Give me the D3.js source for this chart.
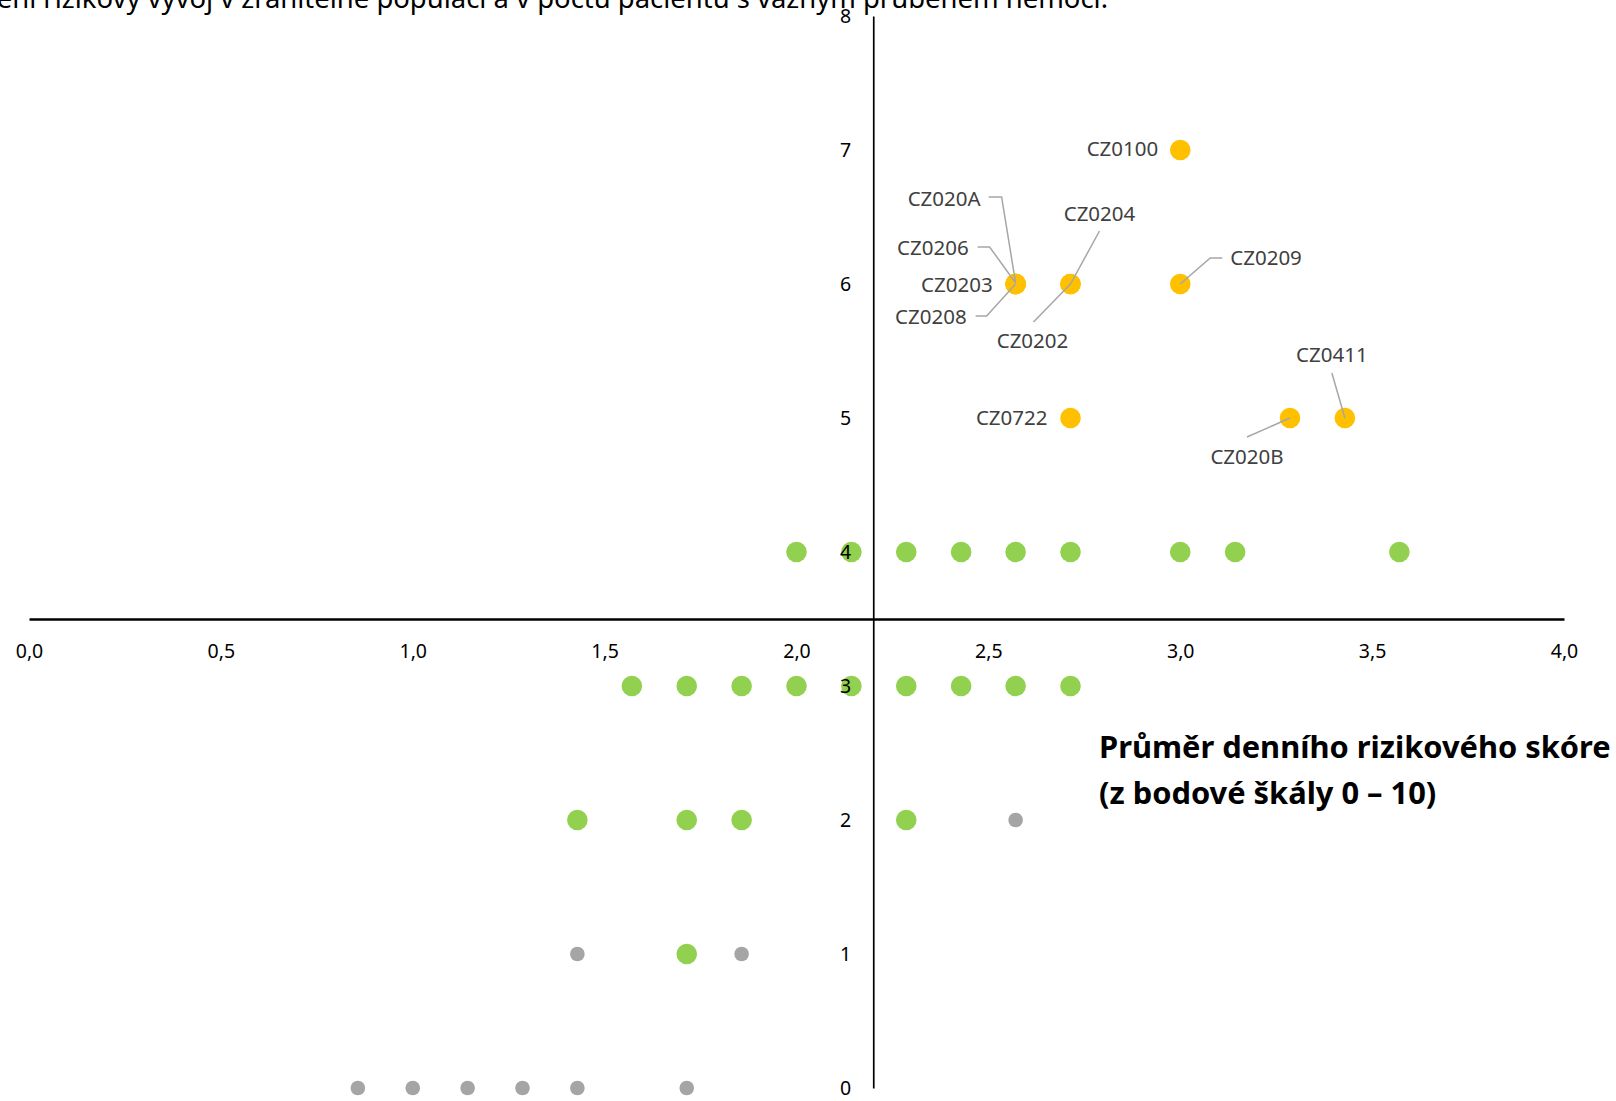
<!DOCTYPE html>
<html>
<head>
<meta charset="utf-8">
<script src="https://cdn.jsdelivr.net/npm/d3@7"></script>
<style>
body { margin: 0; background: #fff; overflow: hidden; }
svg { display: block; }
</style>
</head>
<body>
<script>
// points with region codes (yellow)
var yellowNames = ["CZ0100", "CZ020A", "CZ0206", "CZ0203", "CZ0208", "CZ0204", "CZ0202", "CZ0209", "CZ0722", "CZ020B", "CZ0411"];
var yellowX = [3.0, 2.571, 2.571, 2.571, 2.571, 2.714, 2.714, 3.0, 2.714, 3.286, 3.429];
var yellowY = [7, 6, 6, 6, 6, 6, 6, 6, 5, 5, 5];

// green points
var greenX = [2.0, 2.143, 2.286, 2.429, 2.571, 2.714, 3.0, 3.143, 3.571,
              1.571, 1.714, 1.857, 2.0, 2.143, 2.286, 2.429, 2.571, 2.714,
              1.429, 1.714, 1.857, 2.286,
              1.714];
var greenY = [4, 4, 4, 4, 4, 4, 4, 4, 4,
              3, 3, 3, 3, 3, 3, 3, 3, 3,
              2, 2, 2, 2,
              1];

// grey points
var greyX = [2.571, 1.429, 1.857, 0.857, 1.0, 1.143, 1.286, 1.429, 1.714];
var greyY = [2, 1, 1, 0, 0, 0, 0, 0, 0];

var xTicks = [0, 0.5, 1, 1.5, 2, 2.5, 3, 3.5, 4];
var yTicks = [0, 1, 2, 3, 4, 5, 6, 7, 8];

var titleText = "ení rizikový vývoj v zranitelné populaci a v počtu pacientů s vážným průběhem nemoci.";
var axisTitle = ["Průměr denního rizikového skóre", "(z bodové škály 0 – 10)"];

// where each label sits relative to its point (pixels), plus optional leader line
var labelLayout = {
  "CZ0100": { anchor: "end", dx: -22, dy: -1 },
  "CZ020A": { anchor: "end", dx: -35, dy: -85, leader: [[-27, -87], [-14, -87], [0, -1]] },
  "CZ0206": { anchor: "end", dx: -47, dy: -36, leader: [[-38, -37], [-26, -37], [0, -1]] },
  "CZ0203": { anchor: "end", dx: -23, dy: 1 },
  "CZ0208": { anchor: "end", dx: -49, dy: 33, leader: [[-40, 32], [-29, 32], [0, 0]] },
  "CZ0204": { anchor: "middle", dx: 29, dy: -70, leader: [[29, -53], [0, 0]] },
  "CZ0202": { anchor: "middle", dx: -38, dy: 57, leader: [[-37, 38], [0, 0]] },
  "CZ0209": { anchor: "start", dx: 50, dy: -26, leader: [[42, -26], [30, -26], [0, 0]] },
  "CZ0722": { anchor: "end", dx: -23, dy: 0 },
  "CZ020B": { anchor: "middle", dx: -43, dy: 39, leader: [[-43, 19], [0, 0]] },
  "CZ0411": { anchor: "middle", dx: -13, dy: -63, leader: [[-13, -45], [0, 0]] }
};

var width = 1616, height = 1101;

var svg = d3.select("body").append("svg")
  .attr("width", width)
  .attr("height", height)
  .style("font-family", "'Noto Sans', sans-serif");

var x = d3.scaleLinear().domain([0, 4]).range([29, 1564]);
var y = d3.scaleLinear().domain([0, 8]).range([1088, 16]);

var cz = d3.formatLocale({ decimal: ",", thousands: " ", grouping: [3], currency: ["", " Kč"] });

var yellowData = yellowNames.map(function(n, i) { return { name: n, x: yellowX[i], y: yellowY[i] }; });
var greenData = greenX.map(function(v, i) { return { x: v, y: greenY[i] }; });
var greyData = greyX.map(function(v, i) { return { x: v, y: greyY[i] }; });

// points
svg.append("g").selectAll("circle")
  .data(greyData)
  .enter()
  .append("circle")
  .attr("cx", function(d) { return x(d.x); })
  .attr("cy", function(d) { return y(d.y); })
  .attr("r", 7.3)
  .style("fill", "#a5a5a5");

svg.append("g").selectAll("circle")
  .data(greenData)
  .enter()
  .append("circle")
  .attr("cx", function(d) { return x(d.x); })
  .attr("cy", function(d) { return y(d.y); })
  .attr("r", 10.3)
  .style("fill", "#92d050");

svg.append("g").selectAll("circle")
  .data(yellowData)
  .enter()
  .append("circle")
  .attr("cx", function(d) { return x(d.x); })
  .attr("cy", function(d) { return y(d.y); })
  .attr("r", 10.3)
  .style("fill", "#ffc000");

// axes crossing at (2.2, 3.5)
var xAxis = svg.append("g")
  .attr("transform", "translate(0," + y(3.5) + ")")
  .call(d3.axisBottom(x).tickValues(xTicks).tickSize(0).tickPadding(0).tickFormat(cz.format(".1f")));
xAxis.select(".domain").attr("stroke", "#000").attr("stroke-width", 2.4);
xAxis.selectAll("text")
  .attr("y", 32)
  .attr("dy", "0.35em")
  .attr("font-size", 19.5)
  .attr("font-family", "'Noto Sans', sans-serif")
  .attr("fill", "#000");

var yAxis = svg.append("g")
  .attr("transform", "translate(" + x(2.2) + ",0)")
  .call(d3.axisLeft(y).tickValues(yTicks).tickSize(0).tickPadding(0).tickFormat(d3.format("d")));
yAxis.select(".domain").attr("stroke", "#000").attr("stroke-width", 1.7);
yAxis.selectAll("text")
  .attr("x", -22)
  .attr("dy", "0.35em")
  .attr("font-size", 19.5)
  .attr("font-family", "'Noto Sans', sans-serif")
  .attr("fill", "#000");

// leader lines and labels
var line = d3.line();
var lab = svg.append("g");
yellowData.forEach(function(d) {
  var L = labelLayout[d.name];
  var px = x(d.x), py = y(d.y);
  if (L.leader) {
    lab.append("path")
      .attr("d", line(L.leader.map(function(p) { return [px + p[0], py + p[1]]; })))
      .attr("fill", "none")
      .attr("stroke", "#a6a6a6")
      .attr("stroke-width", 1.5);
  }
  lab.append("text")
    .attr("x", px + L.dx)
    .attr("y", py + L.dy)
    .attr("dy", "0.35em")
    .attr("text-anchor", L.anchor)
    .attr("font-size", 20.5)
    .attr("fill", "#404040")
    .text(d.name);
});

// axis title (bold, two lines), fitted to the reference width
var at = svg.append("g");
var atLines = at.selectAll("text")
  .data(axisTitle)
  .enter()
  .append("text")
  .attr("x", 1099)
  .attr("y", function(d, i) { return 758 + i * 46; })
  .attr("font-weight", "bold")
  .attr("font-size", 32)
  .attr("fill", "#000")
  .text(function(d) { return d; });
var w1 = atLines.nodes()[0].getComputedTextLength();
atLines.attr("font-size", 32 * 512 / w1);

// chart title, cut at the top edge
var tt = svg.append("text")
  .attr("x", 1108)
  .attr("y", 8)
  .attr("text-anchor", "end")
  .attr("font-size", 26)
  .attr("fill", "#000")
  .text(titleText);
var tw = tt.node().getComputedTextLength();
tt.attr("font-size", 26 * 1112 / tw);
</script>
</body>
</html>
